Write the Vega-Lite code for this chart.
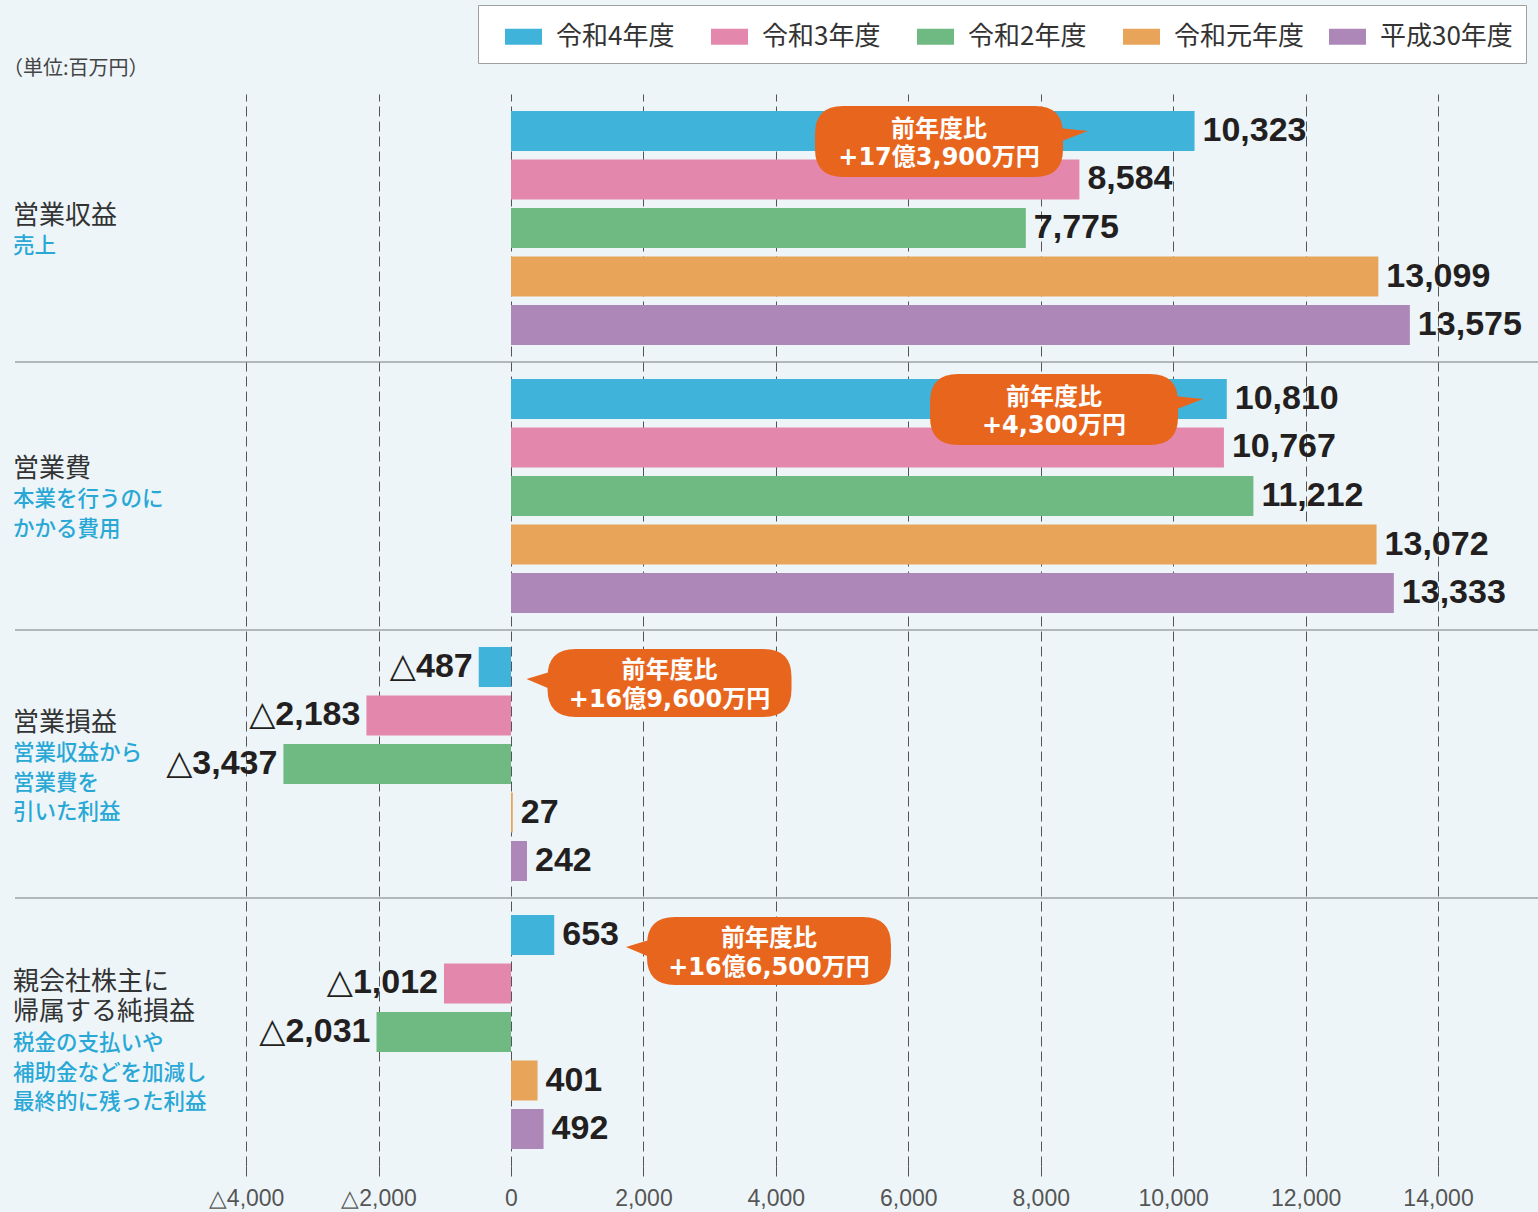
{
  "$schema": "https://vega.github.io/schema/vega-lite/v6.json",
  "width": 1538,
  "height": 1072,
  "autosize": {"type": "none"},
  "padding": {"left": 0, "right": 0, "top": 94, "bottom": 46},
  "background": "#edf5f9",
  "title": {"text": "（単位:百万円）", "anchor": "start", "orient": "top", "offset": 17, "dy": 91, "dx": 3, "fontSize": 20, "font": "Noto Sans CJK JP", "fontWeight": "normal", "color": "#444444"},
  "config": {
    "view": {"stroke": null},
    "locale": {"number": {"decimal": ".", "thousands": ",", "grouping": [3], "currency": ["", ""], "minus": "△"}}
  },
  "datasets": {
    "bars": [
      {"group": "営業収益", "year": "令和4年度", "value": 10323},
      {"group": "営業収益", "year": "令和3年度", "value": 8584},
      {"group": "営業収益", "year": "令和2年度", "value": 7775},
      {"group": "営業収益", "year": "令和元年度", "value": 13099},
      {"group": "営業収益", "year": "平成30年度", "value": 13575},
      {"group": "営業費", "year": "令和4年度", "value": 10810},
      {"group": "営業費", "year": "令和3年度", "value": 10767},
      {"group": "営業費", "year": "令和2年度", "value": 11212},
      {"group": "営業費", "year": "令和元年度", "value": 13072},
      {"group": "営業費", "year": "平成30年度", "value": 13333},
      {"group": "営業損益", "year": "令和4年度", "value": -487},
      {"group": "営業損益", "year": "令和3年度", "value": -2183},
      {"group": "営業損益", "year": "令和2年度", "value": -3437},
      {"group": "営業損益", "year": "令和元年度", "value": 27},
      {"group": "営業損益", "year": "平成30年度", "value": 242},
      {"group": "純損益", "year": "令和4年度", "value": 653},
      {"group": "純損益", "year": "令和3年度", "value": -1012},
      {"group": "純損益", "year": "令和2年度", "value": -2031},
      {"group": "純損益", "year": "令和元年度", "value": 401},
      {"group": "純損益", "year": "平成30年度", "value": 492}
    ],
    "labels": [
      {"group": "営業収益", "title": "営業収益", "sub": "売上"},
      {"group": "営業費", "title": "営業費", "sub": "本業を行うのに\nかかる費用"},
      {"group": "営業損益", "title": "営業損益", "sub": "営業収益から\n営業費を\n引いた利益"},
      {"group": "純損益", "title": "親会社株主に\n帰属する純損益", "sub": "税金の支払いや\n補助金などを加減し\n最終的に残った利益"}
    ],
    "callouts": [
      {"group": "営業収益", "year": "令和4年度", "x": 6464, "side": "right", "text": "前年度比\n+17億3,900万円"},
      {"group": "営業費", "year": "令和4年度", "x": 8201, "side": "right", "text": "前年度比\n+4,300万円"},
      {"group": "営業損益", "year": "令和4年度", "x": 2394, "side": "left", "text": "前年度比\n+16億9,600万円"},
      {"group": "純損益", "year": "令和4年度", "x": 3896, "side": "left", "text": "前年度比\n+16億6,500万円"}
    ]
  },
  "layer": [
    {
      "data": {"name": "labels"},
      "transform": [{"filter": "datum.group !== '営業収益'"}],
      "mark": {"type": "rule", "color": "#9ca3a7", "strokeWidth": 1.5},
      "encoding": {
        "y": {"field": "group", "type": "nominal", "bandPosition": 0, "axis": null, "scale": {"domain": ["営業収益", "営業費", "営業損益", "純損益"], "paddingInner": 0, "paddingOuter": 0}},
        "x": {"datum": -7491, "type": "quantitative"},
        "x2": {"datum": 15510}
      }
    },
    {
      "data": {"name": "bars"},
      "mark": {"type": "bar"},
      "encoding": {
        "x": {
          "field": "value", "type": "quantitative",
          "scale": {"domain": [-7717, 15510], "nice": false, "zero": false},
          "axis": {
            "title": null, "orient": "bottom", "values": [-4000, -2000, 0, 2000, 4000, 6000, 8000, 10000, 12000, 14000],
            "format": ",d", "grid": true, "gridDash": [10, 5], "gridColor": "#555555", "gridWidth": 1,
            "domain": false, "ticks": true, "tickSize": 14, "tickDash": [10, 5], "tickColor": "#555555", "tickWidth": 1,
            "labelFont": "Liberation Sans", "labelFontSize": 23, "labelColor": "#555555", "labelPadding": 7
          }
        },
        "y": {"field": "group", "type": "nominal", "axis": null, "scale": {"domain": ["営業収益", "営業費", "営業損益", "純損益"], "paddingInner": 0, "paddingOuter": 0}},
        "yOffset": {"field": "year", "type": "nominal", "scale": {"domain": ["令和4年度", "令和3年度", "令和2年度", "令和元年度", "平成30年度"], "paddingInner": 0.175, "paddingOuter": 0.35}},
        "color": {
          "field": "year", "type": "nominal",
          "scale": {"domain": ["令和4年度", "令和3年度", "令和2年度", "令和元年度", "平成30年度"], "range": ["#3fb3da", "#e387ac", "#6fba82", "#e8a55a", "#ae87b9"]},
          "legend": {
            "orient": "none", "legendX": 478, "legendY": -89, "direction": "horizontal", "title": null,
            "symbolType": "M-1,-0.43H1V0.43H-1Z", "symbolSize": 1369, "symbolStrokeWidth": 0,
            "labelFont": "Noto Sans CJK JP", "labelFontSize": 26, "labelColor": "#333333", "labelOffset": 14,
            "columnPadding": 8, "padding": 13, "symbolOffset": 14, "fillColor": "#ffffff", "strokeColor": "#a0a0a0", "gridAlign": "all"
          }
        }
      }
    },
    {
      "data": {"name": "bars"},
      "transform": [{"filter": "datum.value >= 0"}],
      "mark": {"type": "text", "align": "left", "baseline": "middle", "dx": 8, "font": "Liberation Sans, DejaVu Sans", "fontWeight": "bold", "fontSize": 34, "color": "#231f20"},
      "encoding": {
        "x": {"field": "value", "type": "quantitative"},
        "y": {"field": "group", "type": "nominal"},
        "yOffset": {"field": "year", "type": "nominal"},
        "text": {"field": "value", "type": "quantitative", "format": ","}
      }
    },
    {
      "data": {"name": "bars"},
      "transform": [{"filter": "datum.value < 0"}],
      "mark": {"type": "text", "align": "right", "baseline": "middle", "dx": -6, "font": "Liberation Sans, DejaVu Sans", "fontWeight": "bold", "fontSize": 34, "color": "#231f20"},
      "encoding": {
        "x": {"field": "value", "type": "quantitative"},
        "y": {"field": "group", "type": "nominal"},
        "yOffset": {"field": "year", "type": "nominal"},
        "text": {"field": "value", "type": "quantitative", "format": ","}
      }
    },
    {
      "data": {"name": "callouts"},
      "transform": [{"filter": "datum.side === 'right'"}],
      "mark": {"type": "point", "shape": "M-0.96,-0.25 H0.96 Q1.24,-0.25 1.24,0.03 V0.18 Q1.24,0.46 0.96,0.46 H-0.96 Q-1.24,0.46 -1.24,0.18 V0.03 Q-1.24,-0.25 -0.96,-0.25 Z M1.1,-0.04 L1.49,0.0 L1.1,0.15 Z", "size": 40000, "filled": true, "color": "#e8651e", "opacity": 1, "strokeWidth": 0},
      "encoding": {
        "x": {"field": "x", "type": "quantitative"},
        "y": {"field": "group", "type": "nominal"},
        "yOffset": {"field": "year", "type": "nominal"}
      }
    },
    {
      "data": {"name": "callouts"},
      "transform": [{"filter": "datum.side === 'left'"}],
      "mark": {"type": "point", "shape": "M-0.94,-0.18 H0.94 Q1.22,-0.18 1.22,0.10 V0.22 Q1.22,0.50 0.94,0.50 H-0.94 Q-1.22,0.50 -1.22,0.22 V0.10 Q-1.22,-0.18 -0.94,-0.18 Z M-1.1,0.26 L-1.43,0.12 L-1.1,0.02 Z", "size": 40000, "filled": true, "color": "#e8651e", "opacity": 1, "strokeWidth": 0},
      "encoding": {
        "x": {"field": "x", "type": "quantitative"},
        "y": {"field": "group", "type": "nominal"},
        "yOffset": {"field": "year", "type": "nominal"}
      }
    },
    {
      "data": {"name": "callouts"},
      "transform": [{"filter": "datum.side === 'right'"}],
      "mark": {"type": "text", "align": "center", "baseline": "top", "dy": -13, "lineBreak": "\n", "lineHeight": 28.5, "font": "DejaVu Sans, Noto Sans CJK JP", "fontWeight": "bold", "fontSize": 24, "color": "#ffffff"},
      "encoding": {
        "x": {"field": "x", "type": "quantitative"},
        "y": {"field": "group", "type": "nominal"},
        "yOffset": {"field": "year", "type": "nominal"},
        "text": {"field": "text", "type": "nominal"}
      }
    },
    {
      "data": {"name": "callouts"},
      "transform": [{"filter": "datum.side === 'left'"}],
      "mark": {"type": "text", "align": "center", "baseline": "top", "dy": -7.5, "lineBreak": "\n", "lineHeight": 28.5, "font": "DejaVu Sans, Noto Sans CJK JP", "fontWeight": "bold", "fontSize": 24, "color": "#ffffff"},
      "encoding": {
        "x": {"field": "x", "type": "quantitative"},
        "y": {"field": "group", "type": "nominal"},
        "yOffset": {"field": "year", "type": "nominal"},
        "text": {"field": "text", "type": "nominal"}
      }
    },
    {
      "data": {"name": "labels"},
      "transform": [{"filter": "datum.group === '営業収益'"}],
      "mark": {"type": "text", "align": "left", "baseline": "top", "dy": -25, "lineBreak": "\n", "lineHeight": 30, "font": "Noto Sans CJK JP", "fontSize": 26, "color": "#333333"},
      "encoding": {"x": {"datum": -7520, "type": "quantitative"}, "y": {"field": "group", "type": "nominal"}, "text": {"field": "title"}}
    },
    {
      "data": {"name": "labels"},
      "transform": [{"filter": "datum.group === '営業費'"}],
      "mark": {"type": "text", "align": "left", "baseline": "top", "dy": -40, "lineBreak": "\n", "lineHeight": 30, "font": "Noto Sans CJK JP", "fontSize": 26, "color": "#333333"},
      "encoding": {"x": {"datum": -7520, "type": "quantitative"}, "y": {"field": "group", "type": "nominal"}, "text": {"field": "title"}}
    },
    {
      "data": {"name": "labels"},
      "transform": [{"filter": "datum.group === '営業損益'"}],
      "mark": {"type": "text", "align": "left", "baseline": "top", "dy": -54, "lineBreak": "\n", "lineHeight": 30, "font": "Noto Sans CJK JP", "fontSize": 26, "color": "#333333"},
      "encoding": {"x": {"datum": -7520, "type": "quantitative"}, "y": {"field": "group", "type": "nominal"}, "text": {"field": "title"}}
    },
    {
      "data": {"name": "labels"},
      "transform": [{"filter": "datum.group === '純損益'"}],
      "mark": {"type": "text", "align": "left", "baseline": "top", "dy": -63, "lineBreak": "\n", "lineHeight": 30, "font": "Noto Sans CJK JP", "fontSize": 26, "color": "#333333"},
      "encoding": {"x": {"datum": -7520, "type": "quantitative"}, "y": {"field": "group", "type": "nominal"}, "text": {"field": "title"}}
    },
    {
      "data": {"name": "labels"},
      "transform": [{"filter": "datum.group === '営業収益'"}],
      "mark": {"type": "text", "align": "left", "baseline": "top", "dy": 8, "lineBreak": "\n", "lineHeight": 29.5, "font": "Noto Sans CJK JP", "fontWeight": 500, "fontSize": 21.5, "color": "#29a8d6"},
      "encoding": {"x": {"datum": -7520, "type": "quantitative"}, "y": {"field": "group", "type": "nominal"}, "text": {"field": "sub"}}
    },
    {
      "data": {"name": "labels"},
      "transform": [{"filter": "datum.group === '営業費'"}],
      "mark": {"type": "text", "align": "left", "baseline": "top", "dy": -7, "lineBreak": "\n", "lineHeight": 29.5, "font": "Noto Sans CJK JP", "fontWeight": 500, "fontSize": 21.5, "color": "#29a8d6"},
      "encoding": {"x": {"datum": -7520, "type": "quantitative"}, "y": {"field": "group", "type": "nominal"}, "text": {"field": "sub"}}
    },
    {
      "data": {"name": "labels"},
      "transform": [{"filter": "datum.group === '営業損益'"}],
      "mark": {"type": "text", "align": "left", "baseline": "top", "dy": -21, "lineBreak": "\n", "lineHeight": 29.5, "font": "Noto Sans CJK JP", "fontWeight": 500, "fontSize": 21.5, "color": "#29a8d6"},
      "encoding": {"x": {"datum": -7520, "type": "quantitative"}, "y": {"field": "group", "type": "nominal"}, "text": {"field": "sub"}}
    },
    {
      "data": {"name": "labels"},
      "transform": [{"filter": "datum.group === '純損益'"}],
      "mark": {"type": "text", "align": "left", "baseline": "top", "dy": 1, "lineBreak": "\n", "lineHeight": 29.5, "font": "Noto Sans CJK JP", "fontWeight": 500, "fontSize": 21.5, "color": "#29a8d6"},
      "encoding": {"x": {"datum": -7520, "type": "quantitative"}, "y": {"field": "group", "type": "nominal"}, "text": {"field": "sub"}}
    }
  ]
}
